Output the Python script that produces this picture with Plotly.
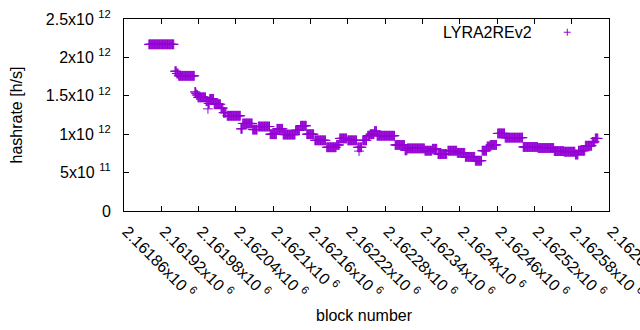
import plotly.graph_objects as go

# ---- data (hashrate in units of 1e12 h/s), constant runs of blocks ----
run_start = [2161900, 2161942, 2161945, 2161948, 2161974, 2161976, 2161977, 2161979,
             2161992, 2161995, 2161996, 2161998, 2162005, 2162016, 2162020, 2162026,
             2162048, 2162051, 2162067, 2162076, 2162095, 2162106, 2162116, 2162136,
             2162144, 2162154, 2162167, 2162186, 2162202, 2162207, 2162220, 2162236,
             2162238, 2162239, 2162244, 2162252, 2162256, 2162263, 2162267, 2162296,
             2162312, 2162316, 2162344, 2162356, 2162365, 2162381, 2162396, 2162409,
             2162425, 2162436, 2162444, 2162449, 2162461, 2162473, 2162502, 2162526,
             2162552, 2162568, 2162586, 2162591, 2162602, 2162613, 2162618]
run_end = [2161940, 2161944, 2161947, 2161973, 2161975, 2161976, 2161978, 2161991,
           2161994, 2161995, 2161997, 2162004, 2162015, 2162019, 2162024, 2162047,
           2162050, 2162066, 2162074, 2162094, 2162105, 2162115, 2162135, 2162142,
           2162153, 2162165, 2162184, 2162201, 2162206, 2162218, 2162234, 2162237,
           2162238, 2162242, 2162250, 2162255, 2162262, 2162266, 2162295, 2162311,
           2162315, 2162343, 2162355, 2162363, 2162379, 2162395, 2162408, 2162424,
           2162435, 2162443, 2162448, 2162459, 2162472, 2162501, 2162525, 2162551,
           2162567, 2162585, 2162590, 2162601, 2162612, 2162617, 2162622]
run_value = [2.17, 1.82, 1.79, 1.76, 1.55, 1.53, 1.51, 1.48,
             1.43, 1.33, 1.40, 1.46, 1.39, 1.34, 1.28, 1.24,
             1.07, 1.14, 1.06, 1.10, 1.00, 1.07, 0.995, 1.05,
             1.11, 1.00, 0.92, 0.83, 0.86, 0.945, 0.92, 0.83,
             0.78, 0.83, 0.92, 0.98, 1.00, 1.04, 0.98, 0.86,
             0.79, 0.815, 0.785, 0.81, 0.742, 0.785, 0.757, 0.705,
             0.655, 0.785, 0.84, 0.86, 1.01, 0.955, 0.834, 0.82,
             0.78, 0.772, 0.735, 0.785, 0.85, 0.90, 0.945]

GAP = "\u00a0"
x_tick_vals = [2161860, 2161920, 2161980, 2162040, 2162100, 2162160, 2162220,
               2162280, 2162340, 2162400, 2162460, 2162520, 2162580, 2162640]
x_tick_mant = ["2.16186", "2.16192", "2.16198", "2.16204", "2.1621", "2.16216", "2.16222",
               "2.16228", "2.16234", "2.1624", "2.16246", "2.16252", "2.16258", "2.16264"]
x_tick_text = [m + "x10" + GAP + "<sup>6</sup>" for m in x_tick_mant]
y_tick_vals = [0, 5e11, 1e12, 1.5e12, 2e12, 2.5e12]
y_tick_text = ["0", "5x10" + GAP + "<sup>11</sup>", "1x10" + GAP + "<sup>12</sup>",
               "1.5x10" + GAP + "<sup>12</sup>", "2x10" + GAP + "<sup>12</sup>",
               "2.5x10" + GAP + "<sup>12</sup>"]

series_name = "LYRA2REv2"

# expand runs to one point per block
xs, ys = [], []
for s, e, v in zip(run_start, run_end, run_value):
    for b in range(s, e + 1):
        xs.append(b)
        ys.append(v * 1e12)

PURPLE = "#9400D3"
FONT = "Liberation Sans, Arial, sans-serif"
FS = 16

fig = go.Figure()
fig.add_trace(go.Scatter(
    x=xs, y=ys, mode="markers", name=series_name, showlegend=False,
    marker=dict(symbol="cross-thin", size=7, line=dict(color=PURPLE, width=1), color=PURPLE),
))

axis_common = dict(
    showgrid=False, zeroline=False, showline=True, linecolor="black", linewidth=1,
    mirror="ticks", ticks="inside", ticklen=5, tickcolor="black", tickwidth=1,
    tickfont=dict(family=FONT, size=FS, color="black"), automargin=False,
    ticklabeloverflow="allow",
)
fig.update_xaxes(range=[2161860, 2162640], tickmode="array", tickvals=x_tick_vals,
                 ticktext=x_tick_text, tickangle=45, ticklabelstandoff=4,
                 ticklabelshift=3, **axis_common)
fig.update_yaxes(range=[0, 2.5e12], tickmode="array", tickvals=y_tick_vals,
                 ticktext=y_tick_text, ticklabelstandoff=9, **axis_common)

fig.update_layout(
    width=640, height=330, margin=dict(l=124, r=31, t=19, b=119),
    plot_bgcolor="white", paper_bgcolor="white",
    font=dict(family=FONT, size=FS, color="black"),
    showlegend=False,
    annotations=[
        dict(text="hashrate [h/s]", xref="paper", yref="paper", x=-0.2237, y=0.5,
             textangle=-90, showarrow=False, xanchor="center", yanchor="middle",
             font=dict(family=FONT, size=FS, color="black")),
        dict(text="block number", xref="paper", yref="paper", x=0.495, y=-0.5417,
             showarrow=False, xanchor="center", yanchor="middle",
             font=dict(family=FONT, size=FS, color="black")),
        dict(text=series_name, xref="paper", yref="paper", x=0.845, y=0.931,
             showarrow=False, xanchor="right", yanchor="middle",
             font=dict(family=FONT, size=FS, color="black")),
    ],
    shapes=[
        dict(type="line", xref="paper", yref="paper", x0=0.914 - 0.0072, x1=0.914 + 0.0072,
             y0=0.931, y1=0.931, line=dict(color=PURPLE, width=1)),
        dict(type="line", xref="paper", yref="paper", x0=0.914, x1=0.914,
             y0=0.931 - 0.0182, y1=0.931 + 0.0182, line=dict(color=PURPLE, width=1)),
    ],
)

fig.write_html("out.html", config={"displayModeBar": False},
               post_script="document.body.style.margin='0';document.body.style.overflow='hidden';")
